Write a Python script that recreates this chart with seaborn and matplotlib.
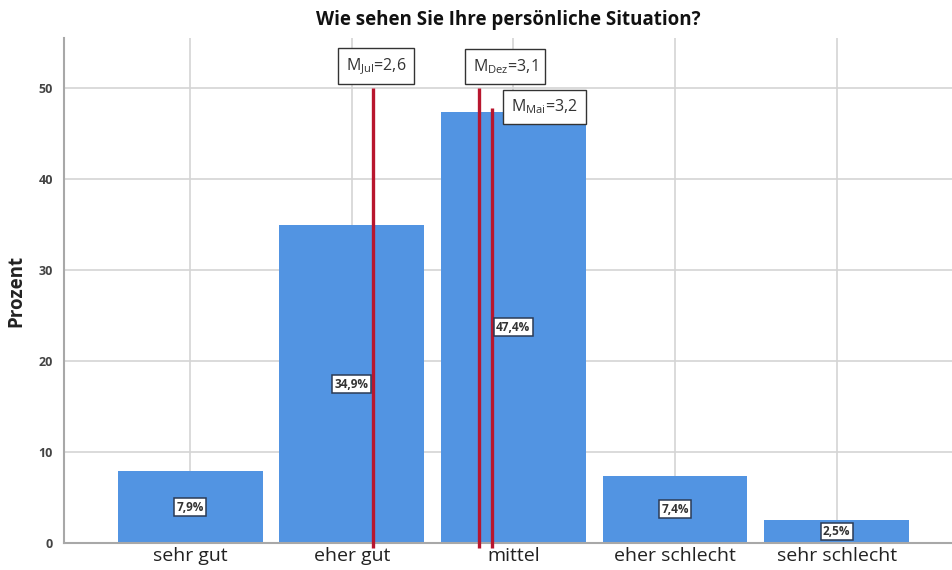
import matplotlib
matplotlib.use("Agg")
import matplotlib.pyplot as plt
import seaborn as sns
import pandas as pd

# ---- data ----
categories = ["sehr gut", "eher gut", "mittel", "eher schlecht", "sehr schlecht"]
percent = [7.9, 34.9, 47.4, 7.4, 2.5]
mean_labels = ["Jul", "Dez", "Mai"]
mean_values = [2.6, 3.1, 3.2]
title = "Wie sehen Sie Ihre persönliche Situation?"
y_label = "Prozent"
y_ticks = [0, 10, 20, 30, 40, 50]

# ---- layout of the mean markers (as drawn in the source figure) ----
mean_line_x = [1.131, 1.790, 1.870]      # in category units
mean_line_top = [50.0, 50.0, 47.8]
mean_box_xy = [(1.149, 52.4), (1.949, 52.4), (2.194, 47.9)]

sns.set_theme(style="white")
plt.rcParams["font.family"] = ["Open Sans", "DejaVu Sans"]
plt.rcParams["mathtext.fontset"] = "custom"
plt.rcParams["mathtext.rm"] = "Open Sans"

df = pd.DataFrame({"cat": categories, "pct": percent})

fig = plt.figure(figsize=(9.53, 5.70), dpi=100)
ax = fig.add_axes([0.0672, 0.0474, 0.9328, 0.886])

sns.barplot(data=df, x="cat", y="pct", color="#5294E2", saturation=1,
            width=0.897, ax=ax, zorder=2)
for p in ax.patches:
    p.set_edgecolor("none")

ax.set_xlim(-0.78, 4.72)
ax.set_ylim(0, 55.5)
ax.set_yticks(y_ticks)
ax.grid(True, color="#D4D4D4", linewidth=1.2, zorder=0)
ax.set_axisbelow(True)
for s in ["top", "right"]:
    ax.spines[s].set_visible(False)
ax.spines["left"].set_color("#A8A8A8")
ax.spines["left"].set_linewidth(1.5)
ax.spines["bottom"].set_color("#A8A8A8")
ax.spines["bottom"].set_linewidth(1.5)
ax.tick_params(axis="y", labelsize=9, colors="#444444", length=0, pad=8)
ax.tick_params(axis="x", labelsize=14, colors="#222222", length=0, pad=3)
for t in ax.get_yticklabels():
    t.set_fontweight("bold")
ax.set_xlabel("")
ax.set_ylabel(y_label, fontsize=13.5, fontweight="bold", color="#222222", labelpad=9)
ax.set_title(title, fontsize=13.5, fontweight="bold", color="#111111", pad=9)

# value labels at half height
for i, v in enumerate(percent):
    ax.text(i, v / 2, f"{v:.1f}".replace(".", ",") + "%", ha="center", va="center",
            fontsize=8.5, fontweight="bold", color="#333333", zorder=5,
            bbox=dict(boxstyle="square,pad=0.2", fc="white", ec="#2B3A55", lw=1.1))

# mean lines and labels
for lab, val, lx, top, (bx, by) in zip(mean_labels, mean_values, mean_line_x,
                                        mean_line_top, mean_box_xy):
    ax.plot([lx, lx], [-0.5, top], color="#B8162E", lw=2.4, zorder=4, clip_on=False,
            solid_capstyle="butt")
    txt = r"M$_{\mathrm{" + lab + r"}}$=" + f"{val:.1f}".replace(".", ",")
    ax.text(bx, by, txt, ha="center", va="center", fontsize=11.5, color="#333333",
            zorder=6,
            bbox=dict(boxstyle="square,pad=0.5", fc="white", ec="#333333", lw=1.0))

fig.savefig("out.png", dpi=100)
